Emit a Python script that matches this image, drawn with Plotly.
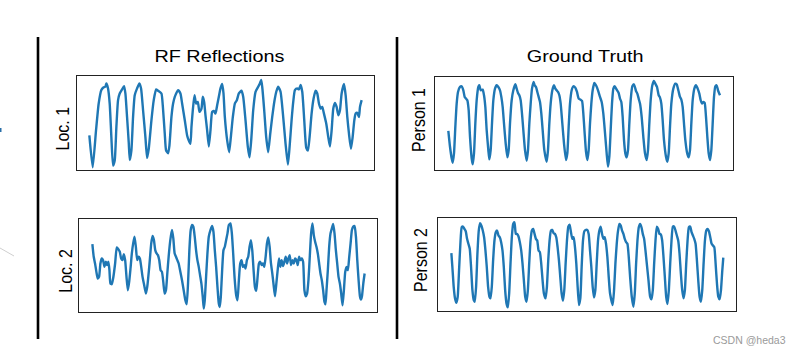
import plotly.graph_objects as go

# ---------------- data (sample index, amplitude) ----------------
loc1_t = [42,52,62,70,78,84,90,93,98,103,108,113,118,123,128,133,140,146,150,155,
          160,163,168,173,178,185,192,197,203,210,215,220,228,235,242,248,258,262,268,272,
          278,282,288,293,298,308,315,320,328,335,340,345,348,352,357,362,367,372,378,382,
          386,390,395,400,405,410,415,420,425,430,435,440,444,448,455,461,466,472,478,484,
          490,498,503,510,517,522,527,533,540,548,553,557,560,566,572,578,584,590,597,603,
          608,615,622,630,637,642,648,653,658,665,670,675,680,686,692,697,702,708,714,720,
          725,730,735,740,745,752,758,763,768,773,778,783,788,793,798,805,810,815,820,826,
          831,836,840,845,850,853,858]
loc1_y = [105,10,120,200,240,248,250,260,245,200,100,15,30,130,210,230,242,252,230,160,
          85,32,60,160,225,245,260,245,180,100,38,65,150,210,242,238,230,195,110,60,
          52,75,160,200,220,240,230,200,150,105,90,80,130,180,225,200,205,175,185,220,
          205,165,120,72,120,175,178,170,195,220,245,258,230,160,90,55,100,160,200,210,
          230,238,220,150,70,40,90,180,235,250,260,270,250,180,100,55,110,160,210,238,
          250,235,170,80,18,70,150,205,240,245,242,255,235,150,68,60,100,170,215,238,
          230,200,185,190,170,140,100,72,120,185,202,190,165,180,230,258,225,160,110,65,
          100,150,170,172,160,190,210]

loc2_t = [52,56,60,64,68,72,76,80,84,88,92,96,100,103,106,110,114,120,125,130,
          134,138,142,146,150,154,158,162,166,170,174,178,182,186,190,194,198,202,206,212,
          216,222,228,232,236,240,244,248,252,256,260,264,268,272,276,280,285,290,294,298,
          302,306,310,315,320,325,330,334,338,342,346,350,354,358,362,366,370,374,378,382,
          385,388,392,396,400,405,410,414,418,422,426,430,433,436,440,444,448,452,456,460,
          465,469,473,477,482,486,490,494,498,502,506,510,514,518,522,526,530,534,538,542,
          546,550,554,558,562,566,570,574,578,582,586,590,594,598,602,606,610,614,618,622,
          626,630,634,638,642,646,650,654,658,662,666,670,674,678,682,686,690,694,698,702,
          706,710,714,718,722,726,730,734,738,742,746,749,752,756,760,764,768,772,776,780,
          784,788,792,796,800,804,808,812,816,820,824,828,832,836,840,844,848,852,855,858,
          862,866]
loc2_y = [208,170,150,125,105,110,150,165,160,140,155,145,155,130,90,88,105,150,198,192,
          185,165,160,178,160,110,70,95,135,180,210,230,200,160,170,165,140,110,90,60,
          80,140,210,232,220,190,180,175,160,130,125,95,60,70,120,170,220,250,225,180,
          170,160,150,125,100,70,40,28,90,190,250,265,260,230,190,160,140,115,90,50,
          15,40,110,180,230,250,262,245,190,140,80,30,20,50,130,190,200,220,240,265,
          270,240,180,110,55,40,100,150,160,140,145,135,160,170,200,220,190,130,80,68,
          110,150,155,145,150,140,170,210,228,200,150,120,85,52,90,130,165,140,160,142,
          155,170,150,165,175,145,160,150,165,160,145,170,160,165,155,70,52,60,100,170,
          240,270,235,215,200,180,150,120,100,70,35,28,70,130,200,240,255,268,240,190,
          150,110,90,60,25,70,125,140,130,170,210,250,260,262,230,160,100,52,42,52,
          90,120]

p1_t = [55,60,65,68,72,76,80,84,90,95,100,104,108,112,116,120,125,128,132,136,
        140,145,148,152,158,162,166,170,175,178,182,186,190,195,200,205,210,214,218,222,
        227,232,236,240,245,250,256,260,264,268,272,276,280,285,290,294,298,302,306,311,
        314,318,322,326,330,334,338,343,350,354,358,362,367,372,376,380,384,388,392,397,
        402,408,412,416,420,425,430,436,441,446,451,456,460,464,468,472,476,480,484,488,
        493,498,504,510,515,520,526,530,534,538,542,546,550,554,560,566,570,574,578,582,
        586,590,594,598,602,607,612,618,622,626,630,635,640,645,650,654,658,662,667,672,
        676,681,686,690,694,698,702,708,712,716,720,724,730,736,740,745,750,754,758,762,
        766,772,776,780,784,788,793,798,803,808,812,816,820,824,828,832,836,840,844,848,
        852,856,860,864,870]
p1_y = [128,80,45,32,60,140,210,245,260,262,250,230,225,220,190,110,45,27,60,150,
        220,260,265,250,252,235,200,130,70,42,70,150,220,255,265,260,250,230,200,150,
        90,48,70,150,220,250,268,255,242,235,220,180,130,70,38,70,150,210,255,275,
        265,260,245,230,215,180,130,70,35,70,150,210,250,265,255,250,245,235,210,150,
        90,40,60,140,210,250,262,258,245,225,222,218,180,120,65,40,70,150,210,250,
        272,265,250,230,215,180,110,60,20,50,130,210,255,262,252,242,225,215,170,100,
        60,48,70,150,220,262,268,248,240,225,210,170,110,60,40,70,150,220,265,278,
        270,260,235,228,210,160,100,50,35,60,140,210,255,270,268,250,230,222,200,150,
        100,58,48,70,150,220,255,265,255,240,220,210,215,212,170,110,60,40,70,150,
        230,262,265,250,235]

p2_t = [65,68,72,76,80,84,88,92,96,100,104,108,112,116,120,124,128,132,135,139,
        143,147,151,155,159,163,167,171,175,179,182,186,190,194,198,202,206,210,214,218,
        222,226,230,234,238,242,246,250,254,258,262,266,270,274,278,282,286,290,294,298,
        302,306,310,314,318,322,326,330,334,338,342,347,351,355,359,363,367,371,375,379,
        383,387,391,395,399,403,407,411,415,419,423,427,431,435,439,443,447,451,455,459,
        463,468,472,476,480,484,488,492,496,500,504,508,512,516,520,524,528,532,536,540,
        548,552,556,560,564,568,572,576,580,584,588,592,596,600,605,610,614,618,622,626,
        630,634,638,642,646,650,655,660,664,668,672,676,680,684,688,692,696,700,704,708,
        712,716,720,724,728,732,736,740,744,748,752,756,760,764,768,772,776,780,784,788,
        792,796,800,804,808,812,816,820,824,828,832,836,840,844,848,852,856,860,864,868,
        872,876,879]
p2_y = [182,140,80,45,32,50,130,210,260,262,255,248,225,210,195,140,70,40,35,80,
        180,250,272,265,250,230,190,140,80,50,45,80,160,220,245,250,235,230,215,190,
        140,70,30,18,60,150,230,270,275,240,240,232,215,190,150,100,50,35,70,150,
        220,250,255,240,225,220,190,185,150,100,60,45,80,160,220,250,252,242,240,230,
        200,160,110,60,38,70,150,220,262,268,245,225,230,200,150,80,25,45,140,220,
        248,252,252,240,190,140,80,48,70,150,220,250,262,240,225,230,210,170,110,60,
        25,70,150,210,250,270,265,250,240,225,215,210,170,110,50,20,60,150,220,260,
        270,260,240,225,190,150,100,50,42,70,150,220,262,255,240,238,220,170,110,50,
        28,70,150,220,262,262,250,235,220,180,120,70,45,70,150,220,260,262,245,235,
        225,210,160,100,50,35,70,150,220,250,255,248,230,210,205,200,150,90,50,42,
        70,130,168]

column_titles = ["RF Reflections", "Ground Truth"]
row_labels = ["Loc. 1", "Loc. 2", "Person 1", "Person 2"]

# ---------------- layout ----------------
W, H = 802, 362
LINE = "#1f77b4"
FONT = "Liberation Sans, Arial, Helvetica, sans-serif"

# pixel boxes (left, top, right, bottom) and axis ranges
panels = [
    dict(t=loc1_t, y=loc1_y, box=(77, 76, 374, 170), xr=[5, 895], yr=[2, 282]),
    dict(t=loc2_t, y=loc2_y, box=(79, 219, 377, 312), xr=[12, 903], yr=[5, 283]),
    dict(t=p1_t, y=p1_y, box=(435, 77, 733, 170), xr=[15, 909], yr=[10, 290]),
    dict(t=p2_t, y=p2_y, box=(438, 218, 736, 311), xr=[25, 917], yr=[7, 288]),
]

fig = go.Figure()
for i, p in enumerate(panels, start=1):
    sfx = "" if i == 1 else str(i)
    fig.add_trace(go.Scatter(
        x=p["t"], y=p["y"], mode="lines",
        line=dict(color=LINE, width=2.4, shape="spline", smoothing=0.5),
        xaxis="x" + sfx, yaxis="y" + sfx, showlegend=False, hoverinfo="skip"))
    l, t, r, b = p["box"]
    ax = dict(domain=[l / W, r / W], range=p["xr"], showgrid=False, zeroline=False,
              showticklabels=False, ticks="", showline=True, mirror=True,
              linecolor="#222222", linewidth=1.4, anchor="y" + sfx)
    ay = dict(domain=[1 - b / H, 1 - t / H], range=p["yr"], showgrid=False, zeroline=False,
              showticklabels=False, ticks="", showline=True, mirror=True,
              linecolor="#222222", linewidth=1.4, anchor="x" + sfx)
    fig.layout["xaxis" + sfx] = ax
    fig.layout["yaxis" + sfx] = ay

annotations = [
    dict(text=column_titles[0], x=219.5 / W, y=1 - 56.5 / H, font=dict(size=16)),
    dict(text=column_titles[1], x=585 / W, y=1 - 56.5 / H, font=dict(size=16)),
    dict(text=row_labels[0], x=62.5 / W, y=1 - 129 / H, textangle=-90, font=dict(size=16)),
    dict(text=row_labels[1], x=64.7 / W, y=1 - 271 / H, textangle=-90, font=dict(size=16)),
    dict(text=row_labels[2], x=418 / W, y=1 - 120 / H, textangle=-90, font=dict(size=16)),
    dict(text=row_labels[3], x=420 / W, y=1 - 260 / H, textangle=-90, font=dict(size=16)),
    dict(text="CSDN @heda3", x=749 / W, y=1 - 339.5 / H,
         font=dict(size=10.5, color="#9a9a9a")),
]
for a in annotations:
    a.update(xref="paper", yref="paper", showarrow=False, xanchor="center", yanchor="middle")
    a["font"].setdefault("color", "#000000")
    a["font"]["family"] = FONT
fig.update_layout(annotations=annotations)

shapes = [
    dict(type="line", x0=38 / W, x1=38 / W, y0=1 - 339 / H, y1=1 - 37 / H,
         line=dict(color="#000000", width=2.6)),
    dict(type="line", x0=397 / W, x1=397 / W, y0=1 - 339 / H, y1=1 - 37 / H,
         line=dict(color="#000000", width=2.6)),
    dict(type="line", x0=0, x1=14 / W, y0=1 - 248 / H, y1=1 - 256 / H,
         line=dict(color="#cfcfcf", width=1)),
    dict(type="line", x0=0.75 / W, x1=0.75 / W, y0=1 - 132 / H, y1=1 - 128 / H,
         line=dict(color="#2a6fa8", width=1.5)),
]
for s in shapes:
    s.update(xref="paper", yref="paper")
fig.update_layout(shapes=shapes)

fig.update_layout(width=W, height=H, margin=dict(l=0, r=0, t=0, b=0),
                  paper_bgcolor="white", plot_bgcolor="white")

# remove the browser's default page margin and widen the (horizontally
# stretched) lettering of the reference a little
post = """
document.body.style.margin = '0';
document.body.style.overflow = 'hidden';
var gd = document.getElementById('{plot_id}');
gd.querySelectorAll('.annotation-text').forEach(function (t) {
  var s = t.textContent;
  t.style.transformBox = 'fill-box';
  t.style.transformOrigin = 'center';
  if (s === 'RF Reflections' || s === 'Ground Truth') {
    t.style.transform = 'scaleX(1.24)';
  } else if (s.indexOf('Loc.') === 0 || s.indexOf('Person') === 0) {
    t.style.transform = 'scaleY(1.2)';
  }
});
"""
fig.write_html("out.html", post_script=post,
               config={"displayModeBar": False, "staticPlot": True})
